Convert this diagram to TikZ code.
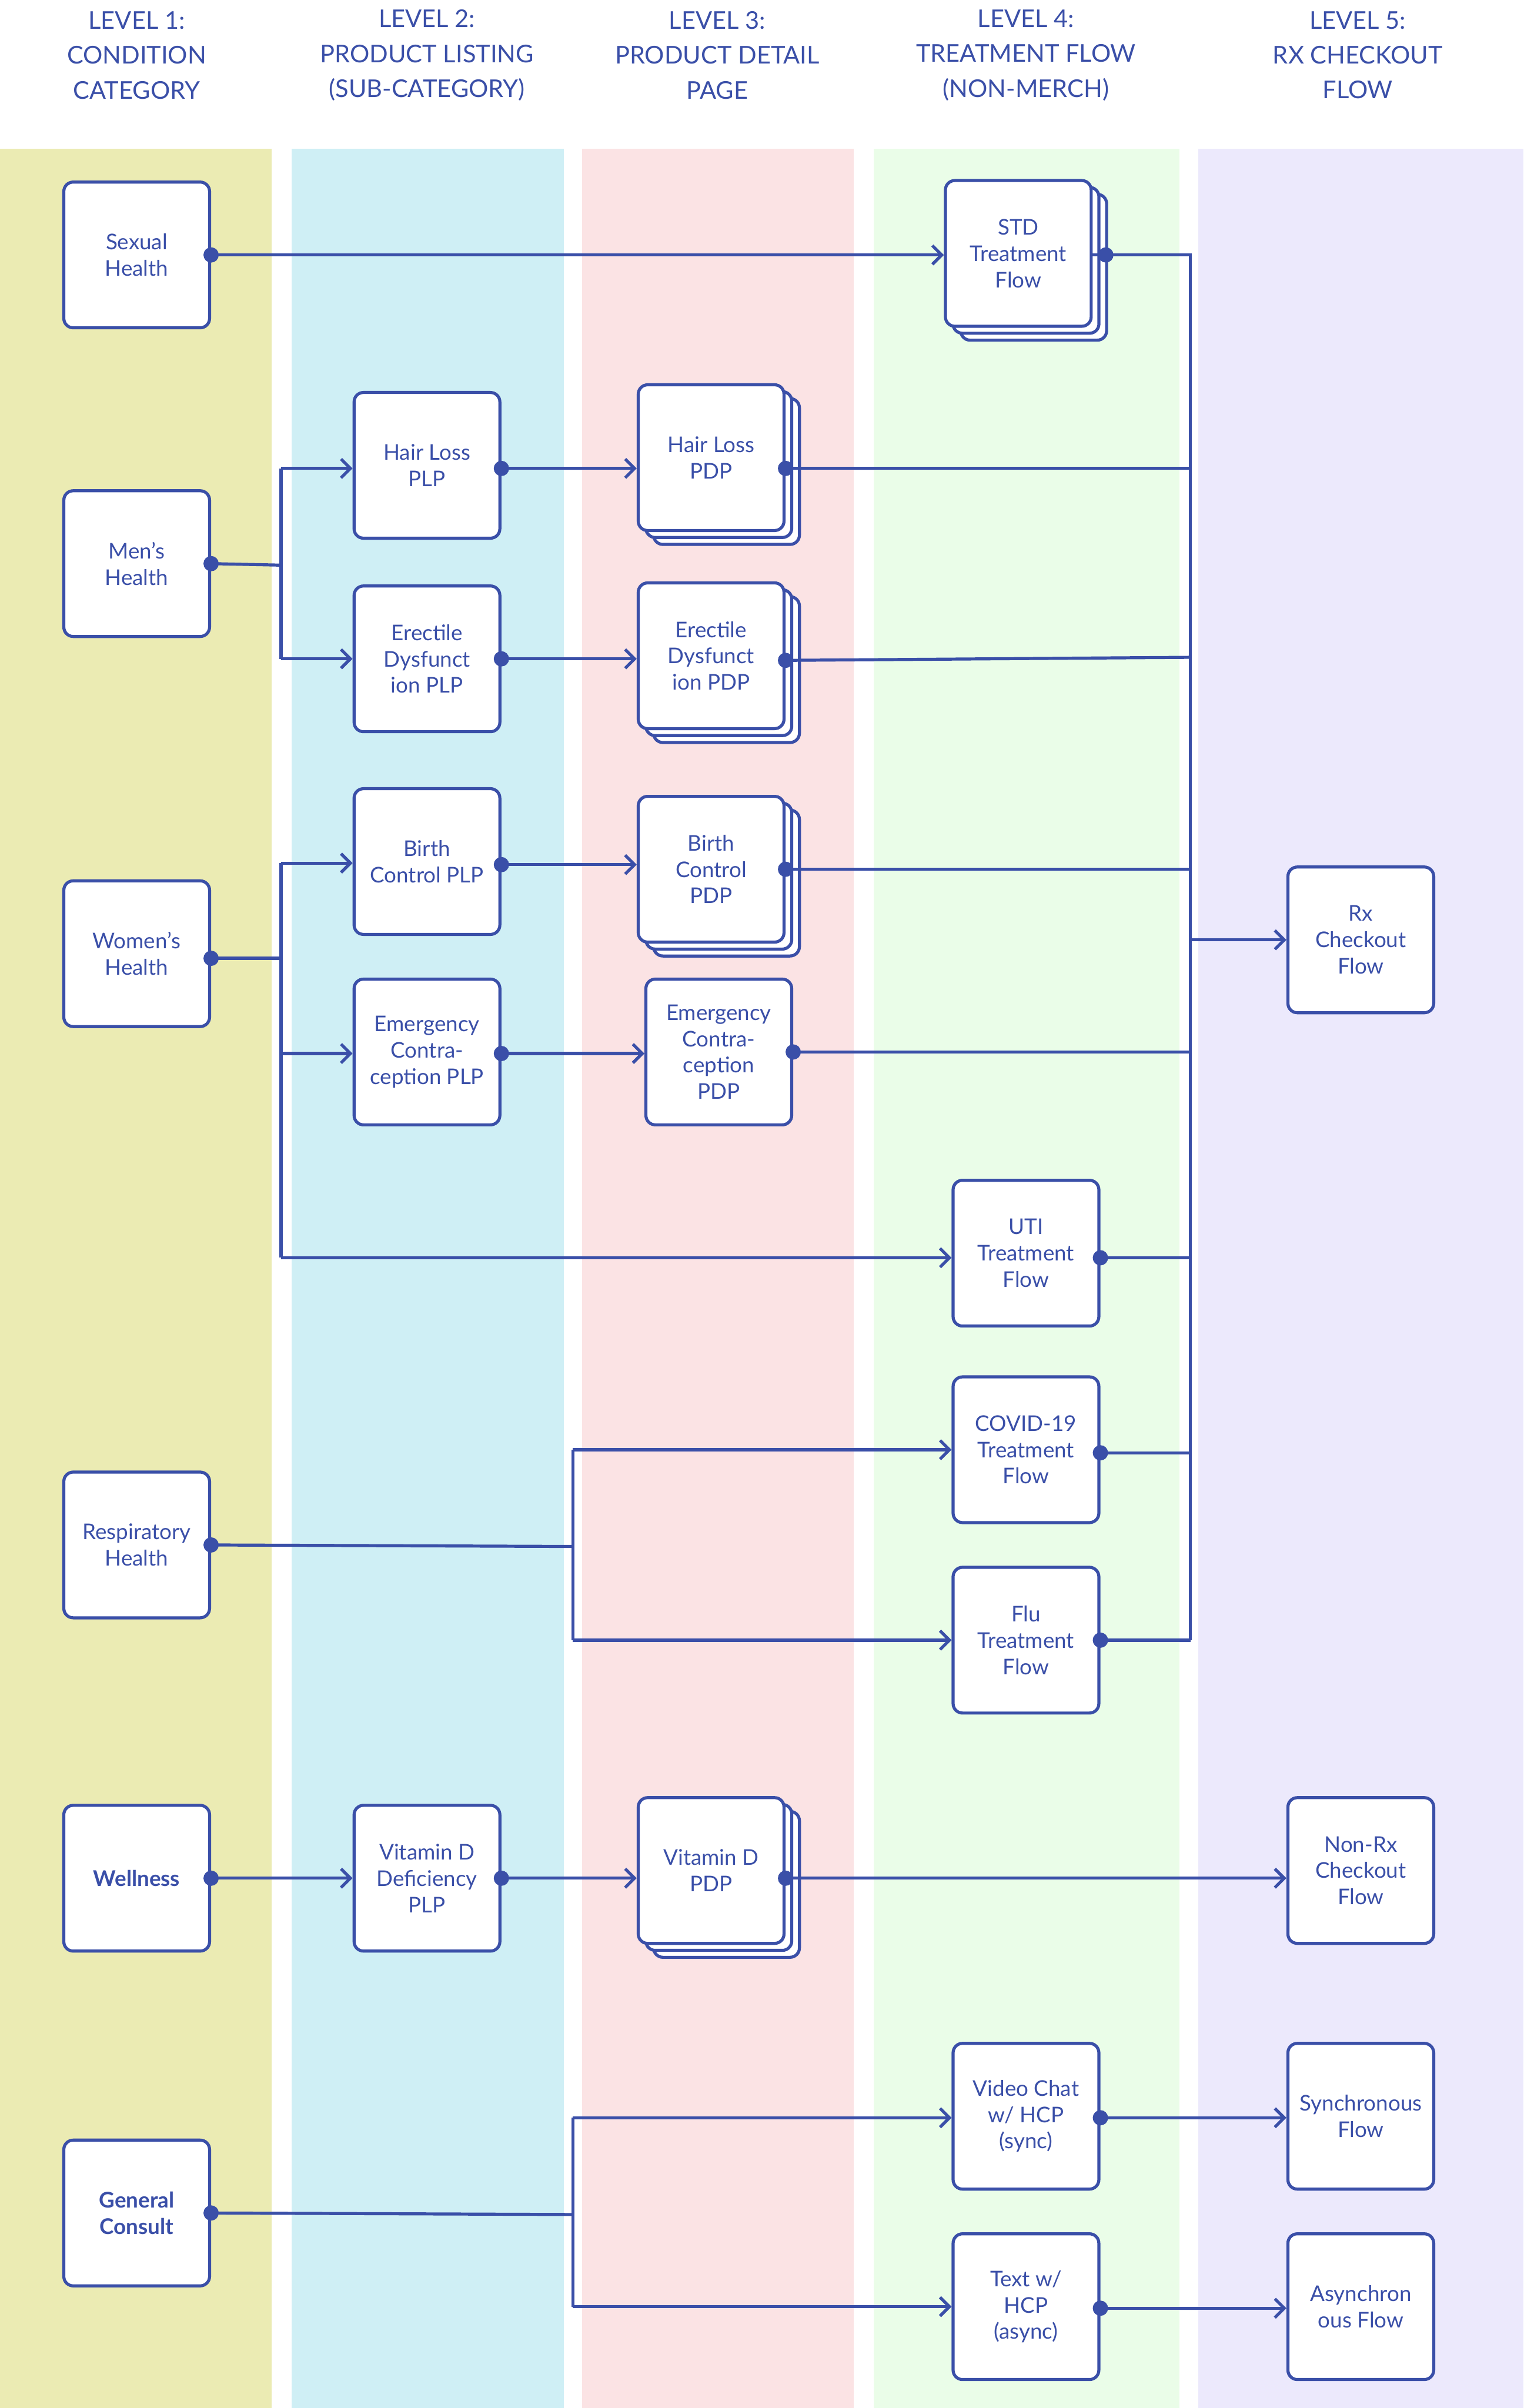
\documentclass[tikz,border=0pt]{standalone}
\usepackage{fontspec}
\setmainfont{Lato}
\usetikzlibrary{arrows.meta}
\definecolor{ln}{HTML}{3A4FA8}
\definecolor{laneA}{HTML}{EBEBB3}
\definecolor{laneB}{HTML}{CFEFF5}
\definecolor{laneC}{HTML}{FBE3E4}
\definecolor{laneD}{HTML}{EAFDE8}
\definecolor{laneE}{HTML}{ECE9FC}
\newcommand{\stk}[2]{%
  \draw[ln,line width=1.3pt,fill=white,rounded corners=4pt] (#1-47.5+10,#2-47.5+9) rectangle (#1+47.5+10,#2+47.5+9);
  \draw[ln,line width=1.3pt,fill=white,rounded corners=4pt] (#1-47.5+5,#2-47.5+4.5) rectangle (#1+47.5+5,#2+47.5+4.5);}
\begin{document}
\begin{tikzpicture}[x=0.6533pt,y=-0.6533pt,
  box/.style={draw=ln,line width=1.3pt,fill=white,rounded corners=4pt,minimum width=62pt,minimum height=62pt,inner sep=0pt,align=center,text=ln,font=\fontsize{9.2}{11.2}\selectfont},
  hdr/.style={text=ln,align=center,font=\fontsize{10.4}{14.8}\selectfont},
  con/.style={ln,line width=1.3pt},
  arr/.style={ln,line width=1.3pt,-{Straight Barb[length=4pt,width=8pt]}},
  dot/.style={circle,fill=ln,inner sep=0pt,minimum size=6.5pt}]
\useasboundingbox (0,0) rectangle (992,1568);
\fill[white] (0,0) rectangle (992,1568);
\fill[laneA] (0,97) rectangle (177,1568);
\fill[laneB] (190,97) rectangle (367,1568);
\fill[laneC] (379,97) rectangle (556,1568);
\fill[laneD] (569,97) rectangle (768,1568);
\fill[laneE] (780,97) rectangle (992,1568);
\node[hdr] (h1) at (89,36) {LEVEL 1:\\CONDITION\\CATEGORY};
\node[hdr] (h2) at (278,36) {LEVEL 2:\\PRODUCT LISTING\\(SUB-CATEGORY)};
\node[hdr] (h3) at (467,36) {LEVEL 3:\\PRODUCT DETAIL\\PAGE};
\node[hdr] (h4) at (668,36) {LEVEL 4:\\TREATMENT FLOW\\(NON-MERCH)};
\node[hdr] (h5) at (884,36) {LEVEL 5:\\RX CHECKOUT\\FLOW};
% level 1
\node[box] (sex) at (89,166) {Sexual\\Health};
\node[box] (men) at (89,367) {Men’s\\Health};
\node[box] (wom) at (89,621) {Women’s\\Health};
\node[box] (resp) at (89,1006) {Respiratory\\Health};
\node[box,font=\fontsize{9.2}{11.2}\selectfont\bfseries] (well) at (89,1223) {Wellness};
\node[box,font=\fontsize{9.2}{11.2}\selectfont\bfseries] (gen) at (89,1441) {General\\Consult};
% level 2
\node[box] (hlplp) at (278,303) {Hair Loss\\PLP};
\node[box] (edplp) at (278,429) {Erectile\\Dysfunct\\ion PLP};
\node[box] (bcplp) at (278,561) {Birth\\Control PLP};
\node[box] (ecplp) at (278,685) {Emergency\\Contra-\\ception PLP};
\node[box] (vdplp) at (278,1223) {Vitamin D\\Deficiency\\PLP};
% level 3
\stk{463}{298}
\node[box] (hlpdp) at (463,298) {Hair Loss\\PDP};
\stk{463}{427}
\node[box] (edpdp) at (463,427) {Erectile\\Dysfunct\\ion PDP};
\stk{463}{566}
\node[box] (bcpdp) at (463,566) {Birth\\Control\\PDP};
\node[box] (ecpdp) at (468,685) {Emergency\\Contra-\\ception\\PDP};
\stk{463}{1218}
\node[box] (vdpdp) at (463,1218) {Vitamin D\\PDP};
% level 4
\stk{663}{165}
\node[box] (std) at (663,165) {STD\\Treatment\\Flow};
\node[box] (uti) at (668,816) {UTI\\Treatment\\Flow};
\node[box] (cov) at (668,944) {COVID-19\\Treatment\\Flow};
\node[box] (flu) at (668,1068) {Flu\\Treatment\\Flow};
\node[box] (vid) at (668,1378) {Video Chat\\w/ HCP\\(sync)};
\node[box] (txt) at (668,1502) {Text w/\\HCP\\(async)};
% level 5
\node[box] (rx) at (886,612) {Rx\\Checkout\\Flow};
\node[box] (nrx) at (886,1218) {Non-Rx\\Checkout\\Flow};
\node[box] (syn) at (886,1378) {Synchronous\\Flow};
\node[box] (asy) at (886,1502) {Asynchron\\ous Flow};
% junction coordinates
\coordinate (mj) at (183,368);
\coordinate (wj) at (183,624);
\coordinate (rj) at (373,1007);
\coordinate (gj) at (373,1442);
\coordinate (bt) at (775,166);
\coordinate (bb) at (775,1068);
\coordinate (bm) at (775,612);
% connectors
\draw[arr] (sex.east |- 0,166) -- (std.west |- 0,166);
\draw[con] (men.east) -- (mj);
\draw[con] (183,305) -- (183,429);
\draw[arr] (183,305) -- (hlplp.west |- 0,305);
\draw[arr] (183,429) -- (edplp.west |- 0,429);
\draw[arr] (hlplp.east |- 0,305) -- (hlpdp.west |- 0,305);
\draw[arr] (edplp.east |- 0,429) -- (edpdp.west |- 0,429);
\draw[con] (wom.east |- 0,624) -- (wj);
\draw[con] (183,562) -- (183,819);
\draw[arr] (183,562) -- (bcplp.west |- 0,562);
\draw[arr] (183,686) -- (ecplp.west |- 0,686);
\draw[arr] (183,819) -- (uti.west |- 0,819);
\draw[arr] (bcplp.east |- 0,563) -- (bcpdp.west |- 0,563);
\draw[arr] (ecplp.east |- 0,686) -- (ecpdp.west |- 0,686);
\draw[con] (std.east |- 0,166) -- (bt) -- (bb);
\draw[con] (hlpdp.east |- 0,305) -- (775,305);
\draw[con] (edpdp.east |- 0,430) -- (775,428);
\draw[con] (bcpdp.east |- 0,566) -- (775,566);
\draw[con] (ecpdp.east |- 0,685) -- (775,685);
\draw[con] (uti.east |- 0,819) -- (775,819);
\draw[con] (cov.east |- 0,946) -- (775,946);
\draw[con] (flu.east |- 0,1068) -- (bb);
\draw[arr] (bm) -- (rx.west |- 0,612);
\draw[con] (resp.east |- 0,1006) -- (rj);
\draw[con] (373,944) -- (373,1068);
\draw[arr] (373,944) -- (cov.west |- 0,944);
\draw[arr] (373,1068) -- (flu.west |- 0,1068);
\draw[arr] (well.east |- 0,1223) -- (vdplp.west |- 0,1223);
\draw[arr] (vdplp.east |- 0,1223) -- (vdpdp.west |- 0,1223);
\draw[arr] (vdpdp.east |- 0,1223) -- (nrx.west |- 0,1223);
\draw[con] (gen.east |- 0,1441) -- (gj);
\draw[con] (373,1379) -- (373,1502);
\draw[arr] (373,1379) -- (vid.west |- 0,1379);
\draw[arr] (373,1502) -- (txt.west |- 0,1502);
\draw[arr] (vid.east |- 0,1379) -- (syn.west |- 0,1379);
\draw[arr] (txt.east |- 0,1503) -- (asy.west |- 0,1503);
% dots
\foreach \n/\y in {sex/166,men/367,wom/624,resp/1006,well/1223,gen/1441,hlplp/305,edplp/429,bcplp/563,ecplp/686,vdplp/1223}
  \node[dot] at (\n.east |- 0,\y) {};
\node[dot] at (hlpdp.east |- 0,305) {};
\node[dot] at (edpdp.east |- 0,430) {};
\node[dot] at (bcpdp.east |- 0,566) {};
\node[dot] at (ecpdp.east |- 0,685) {};
\node[dot] at (vdpdp.east |- 0,1223) {};
\node[dot] at (663+57,166) {};
\foreach \n/\y in {uti/819,cov/946,flu/1068,vid/1379,txt/1503}
  \node[dot] at (\n.east |- 0,\y) {};
\end{tikzpicture}
\end{document}
